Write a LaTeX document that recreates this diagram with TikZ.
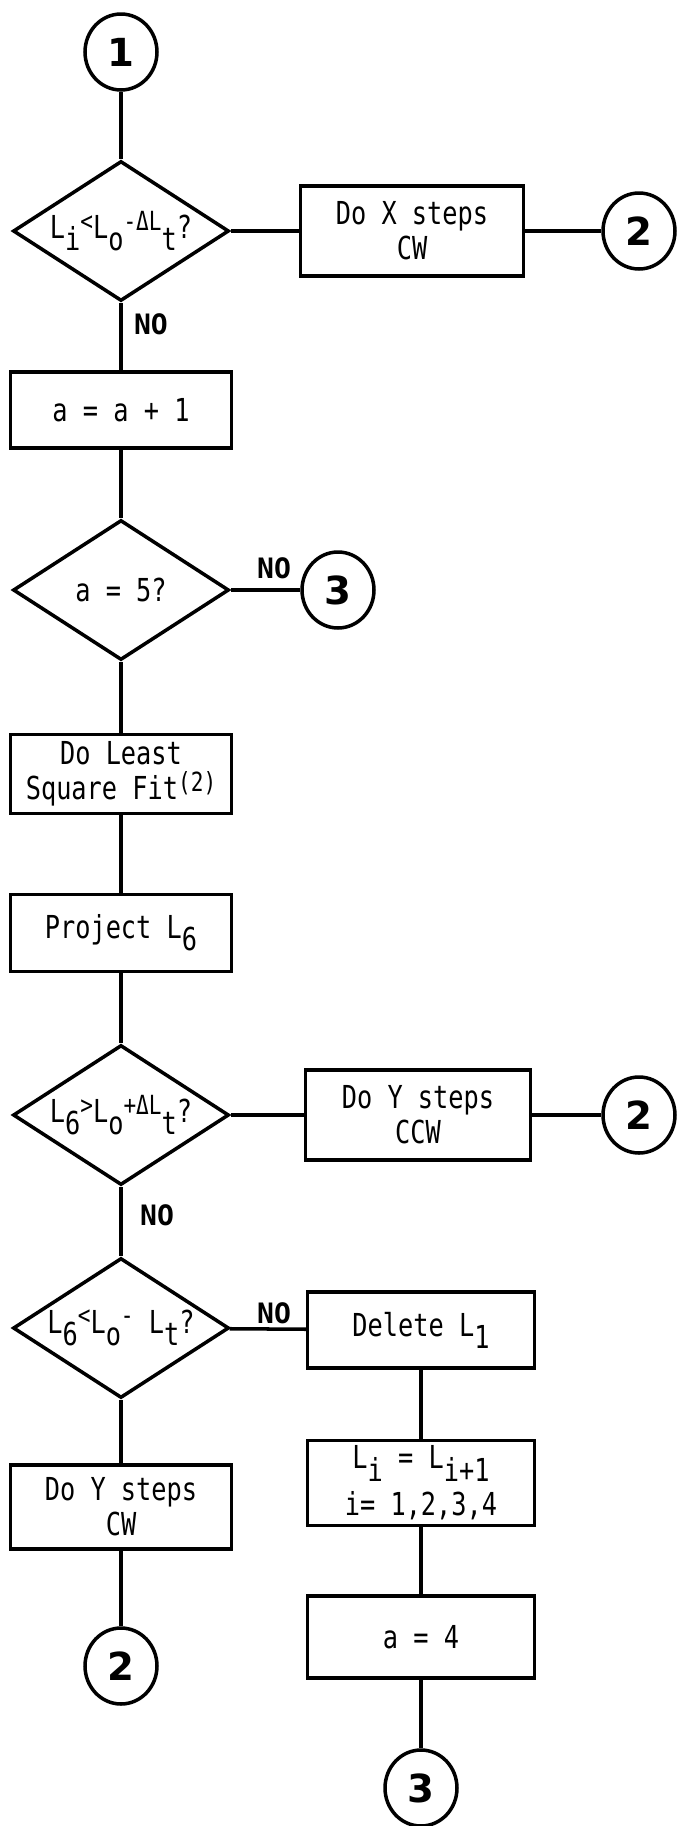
\documentclass[tikz,border=0pt]{standalone}
\usepackage{fontspec}
\setmonofont{DejaVu Sans Mono}[FakeStretch=0.8]
\newfontfamily\digitfont{DejaVu Sans}
\newfontfamily\flagfont{DejaVu Sans Mono}
\usepackage{tikz}
\usetikzlibrary{shapes.geometric}
\newcommand{\dn}[1]{\raisebox{-0.7ex}{#1}}
\newcommand{\up}[1]{\raisebox{0.5ex}{\fontsize{15}{15}\selectfont #1}}

\begin{document}
\begin{tikzpicture}[
    x=0.02cm, y=-0.02cm, line width=2pt,
    every node/.style={font=\ttfamily\fontsize{18}{20}\selectfont},
    box/.style={draw, rectangle, align=center, minimum width=4.42cm, inner sep=2pt},
    decision/.style={draw, diamond, minimum width=4.32cm, minimum height=2.8cm, inner sep=0pt,
                     every label/.style={font=\ttfamily\fontsize{17}{19}\selectfont}},
    conn/.style={draw, ellipse, minimum width=1.44cm, minimum height=1.52cm, inner sep=0pt,
                 font=\digitfont\bfseries\fontsize{22}{22}\selectfont},
    flag/.style={font=\flagfont\bfseries\fontsize{16}{16}\selectfont}
]
\useasboundingbox (0,0) rectangle (678,1826);
\node[conn] (c1) at (121,52) {1};
\node[decision, label=center:{L\dn{i}\up{<}L\dn{o}\up{-ΔL}\dn{t}?}] (d1) at (121,231) {};
\node[box, minimum width=4.46cm, minimum height=1.8cm] (bx) at (412,231) {Do X steps\\CW};
\node[conn] (c2a) at (639,231) {2};
\node[flag] (no1) at (151,324) {NO};
\node[box, minimum height=1.52cm] (inc) at (121,410) {a = a + 1};
\node[decision, label=center:{a = 5?}] (d2) at (121,590) {};
\node[flag] (no2) at (274,568) {NO};
\node[conn] (c3a) at (338,590) {3};
\node[box, minimum height=1.58cm] (lsf) at (121,774) {Do Least\\Square Fit\up{(2)}};
\node[box, minimum height=1.54cm] (proj) at (121,933) {Project L\dn{6}};
\node[decision, label=center:{L\dn{6}\up{>}L\dn{o}\up{+ΔL}\dn{t}?}] (d3) at (121,1115) {};
\node[box, minimum width=4.5cm, minimum height=1.8cm] (ccw) at (418,1115) {Do Y steps\\CCW};
\node[conn] (c2b) at (639,1115) {2};
\node[flag] (no3) at (157,1215) {NO};
\node[decision, label=center:{L\dn{6}\up{<}L\dn{o}\up{-} L\dn{t}?}] (d4) at (121,1328) {};
\node[flag] (no4) at (274,1313) {NO};
\node[box, minimum width=4.54cm, minimum height=1.52cm] (del) at (421,1330) {Delete L\dn{1}};
\node[box, minimum width=4.54cm, minimum height=1.7cm] (shift) at (421,1483) {L\dn{i} = L\dn{i+1}\\[5pt]i= 1,2,3,4};
\node[box, minimum width=4.54cm, minimum height=1.64cm] (reset) at (421,1637) {a = 4};
\node[conn] (c3b) at (421,1788) {3};
\node[box, minimum height=1.68cm] (cw) at (121,1507) {Do Y steps\\CW};
\node[conn] (c2c) at (121,1666) {2};
\draw (c1) -- (d1);
\draw (d1) -- (bx);
\draw (bx) -- (c2a);
\draw (d1) -- (inc);
\draw (inc) -- (d2);
\draw (d2) -- (c3a);
\draw (d2) -- (lsf);
\draw (lsf) -- (proj);
\draw (proj) -- (d3);
\draw (d3) -- (ccw);
\draw (ccw) -- (c2b);
\draw (d3) -- (d4);
\draw (d4) -- (del);
\draw (del) -- (shift);
\draw (shift) -- (reset);
\draw (reset) -- (c3b);
\draw (d4) -- (cw);
\draw (cw) -- (c2c);
\end{tikzpicture}
\end{document}
